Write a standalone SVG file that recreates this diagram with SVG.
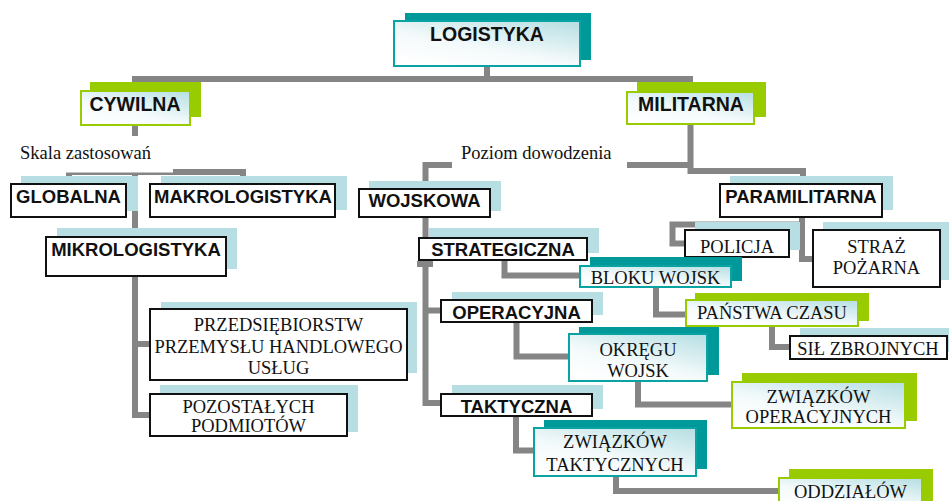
<svg xmlns="http://www.w3.org/2000/svg" width="949" height="501" viewBox="0 0 949 501">
<defs>
<linearGradient id="g" x1="0.2" y1="1" x2="0.9" y2="0">
<stop offset="0" stop-color="#ffffff"/>
<stop offset="0.4" stop-color="#f4fafb"/>
<stop offset="1" stop-color="#b9e0e4"/>
</linearGradient>
<style>
.c{fill:none;stroke:#858585;stroke-width:6;stroke-linejoin:miter}
.sl{fill:#b7dee2}
.st{fill:#009999}
.sg{fill:#99cc00}
.bk{fill:#ffffff;stroke:#111;stroke-width:2}
.bt{fill:url(#g);stroke:#0aa3a3;stroke-width:2}
.bg{fill:url(#g);stroke:#99cc00;stroke-width:2}
.b1{font-family:"Liberation Sans",Arial,sans-serif;font-weight:bold;font-size:19.5px;fill:#111;text-anchor:middle}
.b2{font-family:"Liberation Sans",Arial,sans-serif;font-weight:bold;font-size:18.5px;fill:#111;text-anchor:middle}
.s{font-family:"Liberation Serif","Times New Roman",serif;font-size:18.5px;fill:#111;text-anchor:middle}
.sa{font-family:"Liberation Serif","Times New Roman",serif;font-size:18.5px;fill:#111}
</style>
</defs>
<g id="connectors">
<path class="c" d="M487,67 V79"/>
<path class="c" d="M135,91 V79 H690 V91"/>
<path class="c" d="M135,126 V415 H149"/>
<path class="c" d="M135,344 H149"/>
<path class="c" d="M69,183 V172 H243 V183"/>
<path class="c" d="M690.5,125 V171 H803 V183"/>
<path class="c" d="M425.5,188 V165 H690"/>
<path class="c" d="M425.5,218 V403 H440"/>
<path class="c" d="M425.5,310.5 H440"/>
<path class="c" d="M417,264 H433"/>
<path class="c" d="M802,218 V259 H812"/>
<path class="c" d="M802,224.5 H672.5 V243.5 H684"/>
<path class="c" d="M504.5,261 V275.5 H580"/>
<path class="c" d="M656,288 V314.5 H685"/>
<path class="c" d="M772,327 V347 H789"/>
<path class="c" d="M516.5,323 V356.5 H568"/>
<path class="c" d="M638,382 V404.5 H731"/>
<path class="c" d="M516,417 V450.5 H533"/>
<path class="c" d="M616,477 V491 H778"/>
</g>
<g id="label-skala">
<rect x="14" y="136" width="159" height="36.5" fill="#ffffff"/>
<text class="sa" x="20" y="159">Skala zastosowań</text>
</g>
<g id="label-poziom">
<rect x="452" y="140" width="175" height="30" fill="#ffffff"/>
<text class="sa" x="461" y="159">Poziom dowodzenia</text>
</g>
<g id="logistyka">
<rect class="st" x="405" y="13" width="186" height="47"/>
<rect class="bt" x="394" y="21" width="186" height="45"/>
<text class="b1" x="487" y="41">LOGISTYKA</text>
</g>
<g id="cywilna">
<rect class="sg" x="90" y="82" width="111" height="35"/>
<rect class="bg" x="81" y="91" width="109" height="34"/>
<text class="b1" x="135" y="111">CYWILNA</text>
</g>
<g id="militarna">
<rect class="sg" x="637" y="82" width="129" height="35"/>
<rect class="bg" x="627" y="92" width="127" height="32"/>
<text class="b1" x="691" y="111">MILITARNA</text>
</g>
<g id="globalna">
<rect class="sl" x="21" y="176" width="117" height="35"/>
<rect class="bk" x="11" y="184" width="115" height="33"/>
<text class="b2" x="68.5" y="203">GLOBALNA</text>
</g>
<g id="makrologistyka">
<rect class="sl" x="161" y="176" width="186" height="34"/>
<rect class="bk" x="150" y="184" width="185" height="33"/>
<text class="b2" x="243" y="203">MAKROLOGISTYKA</text>
</g>
<g id="mikrologistyka">
<rect class="sl" x="57" y="228" width="180" height="41"/>
<rect class="bk" x="46" y="237" width="180" height="39"/>
<text class="b2" x="136" y="256">MIKROLOGISTYKA</text>
</g>
<g id="przedsiebiorstw">
<rect class="sl" x="161" y="302" width="256" height="71"/>
<rect class="bk" x="150" y="309" width="257" height="71"/>
<text class="s" x="278.5" y="331">PRZEDSIĘBIORSTW</text>
<text class="s" x="278.5" y="352.5">PRZEMYSŁU HANDLOWEGO</text>
<text class="s" x="278.5" y="373.5">USŁUG</text>
</g>
<g id="pozostalych">
<rect class="sl" x="160" y="385" width="198" height="47"/>
<rect class="bk" x="150" y="394" width="197" height="42"/>
<text class="s" x="248.5" y="413">POZOSTAŁYCH</text>
<text class="s" x="248.5" y="432">PODMIOTÓW</text>
</g>
<g id="wojskowa">
<rect class="sl" x="369" y="181" width="132" height="30"/>
<rect class="bk" x="359" y="189" width="131" height="28"/>
<text class="b2" x="424.5" y="207">WOJSKOWA</text>
</g>
<g id="paramilitarna">
<rect class="sl" x="730" y="176" width="163" height="34"/>
<rect class="bk" x="720" y="184" width="162" height="33"/>
<text class="b2" x="801" y="203">PARAMILITARNA</text>
</g>
<g id="policja">
<rect class="sl" x="695" y="222" width="105" height="28"/>
<rect class="bk" x="685" y="230" width="104" height="27"/>
<text class="s" x="737" y="253">POLICJA</text>
</g>
<g id="straz">
<rect class="sl" x="823" y="222" width="126" height="58"/>
<rect class="bk" x="813" y="230" width="127" height="57"/>
<text class="s" x="876.5" y="253">STRAŻ</text>
<text class="s" x="876.5" y="274">POŻARNA</text>
</g>
<g id="strategiczna">
<rect class="sl" x="429" y="228" width="170" height="25"/>
<rect class="bk" x="419" y="238" width="168" height="22"/>
<text class="b2" x="503" y="256">STRATEGICZNA</text>
</g>
<g id="bloku-wojsk">
<rect class="st" x="590" y="257" width="152" height="24"/>
<rect class="bt" x="580" y="266" width="151" height="21"/>
<text class="s" x="655.5" y="284">BLOKU WOJSK</text>
</g>
<g id="panstwa-czasu">
<rect class="sg" x="695" y="293" width="174" height="28"/>
<rect class="bg" x="686" y="300" width="172" height="26"/>
<text class="s" x="772" y="319">PAŃSTWA CZASU</text>
</g>
<g id="sil-zbrojnych">
<rect class="sl" x="800" y="328" width="149" height="24"/>
<rect class="bk" x="790" y="336" width="157" height="23"/>
<text class="s" x="868" y="355">SIŁ ZBROJNYCH</text>
</g>
<g id="operacyjna">
<rect class="sl" x="452" y="292" width="151" height="23"/>
<rect class="bk" x="441" y="300" width="151" height="22"/>
<text class="b2" x="516.5" y="319">OPERACYJNA</text>
</g>
<g id="okregu-wojsk">
<rect class="st" x="579" y="327" width="140" height="48"/>
<rect class="bt" x="569" y="334" width="138" height="47"/>
<text class="s" x="638" y="356">OKRĘGU</text>
<text class="s" x="638" y="377">WOJSK</text>
</g>
<g id="zwiazkow-operacyjnych">
<rect class="sg" x="742" y="373" width="175" height="48"/>
<rect class="bg" x="732" y="382" width="173" height="46"/>
<text class="s" x="818.5" y="403">ZWIĄZKÓW</text>
<text class="s" x="818.5" y="423">OPERACYJNYCH</text>
</g>
<g id="taktyczna">
<rect class="sl" x="452" y="385" width="151" height="24"/>
<rect class="bk" x="441" y="394" width="151" height="22"/>
<text class="b2" x="516.5" y="413">TAKTYCZNA</text>
</g>
<g id="zwiazkow-taktycznych">
<rect class="st" x="544" y="420" width="163" height="49"/>
<rect class="bt" x="534" y="428" width="162" height="48"/>
<text class="s" x="615" y="448">ZWIĄZKÓW</text>
<text class="s" x="615" y="471">TAKTYCZNYCH</text>
</g>
<g id="oddzialow">
<rect class="sg" x="789" y="469" width="144" height="40"/>
<rect class="bg" x="779" y="478" width="143" height="30"/>
<text class="s" x="850.5" y="498">ODDZIAŁÓW</text>
</g>
</svg>
